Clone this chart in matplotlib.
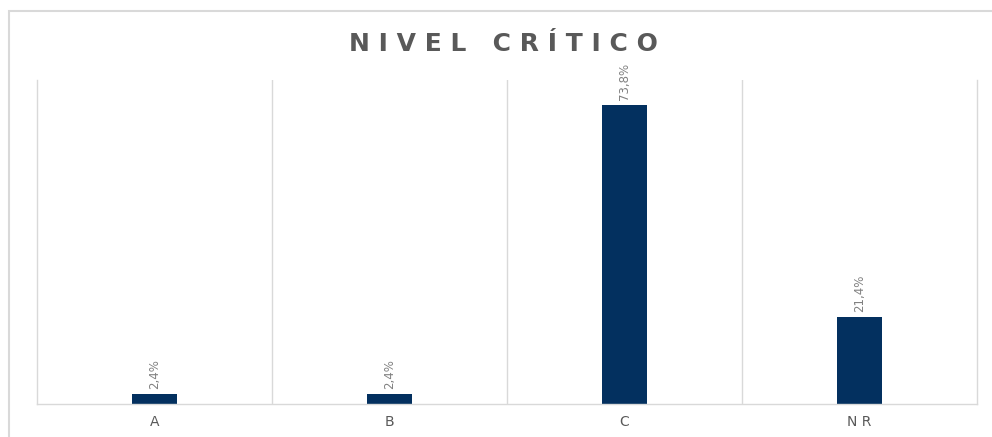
import matplotlib.pyplot as plt
import numpy as np
from matplotlib.patches import Rectangle

categories = ['A', 'B', 'C', 'NR']
values = [2.4, 2.4, 73.8, 21.4]
tick_labels = ['A', 'B', 'C', 'N R']

fig = plt.figure(figsize=(9.92, 4.37), dpi=100)
# outer chart frame
fig.patches.append(Rectangle((9/992, -0.1), 1.1, 1 - 11/437 + 0.1, transform=fig.transFigure,
                             fill=False, edgecolor='#d9d9d9', linewidth=1.5))

ax = fig.add_axes([37/992, 33/437, 940/992, 324/437])
xpos = np.arange(len(categories))
ax.bar(xpos, values, width=0.19, color='#03305f')

for x, v in zip(xpos, values):
    ax.annotate(f'{v:.1f}%'.replace('.', ','), (x, v), xytext=(0, 4), textcoords='offset points',
                rotation=90, ha='center', va='bottom', color='#808080', fontsize=8.5)

ax.set_xlim(-0.5, 3.5)
ax.set_ylim(0, 80)
ax.set_yticks([])
ax.set_xticks(xpos)
ax.set_xticklabels(tick_labels, color='#595959', fontsize=10)
ax.tick_params(axis='x', length=0, pad=8)
for b in [0.5, 1.5, 2.5]:
    ax.axvline(b, color='#d9d9d9', linewidth=1)
ax.spines['top'].set_visible(False)
for s in ['left', 'right', 'bottom']:
    ax.spines[s].set_color('#d9d9d9')
    ax.spines[s].set_linewidth(1)

title = 'N I V E L   C R Í T I C O'
fig.text(0.507, 0.90, title, ha='center', va='center', fontsize=18,
         fontweight='bold', color='#595959')

fig.savefig('out.png', dpi=100)
